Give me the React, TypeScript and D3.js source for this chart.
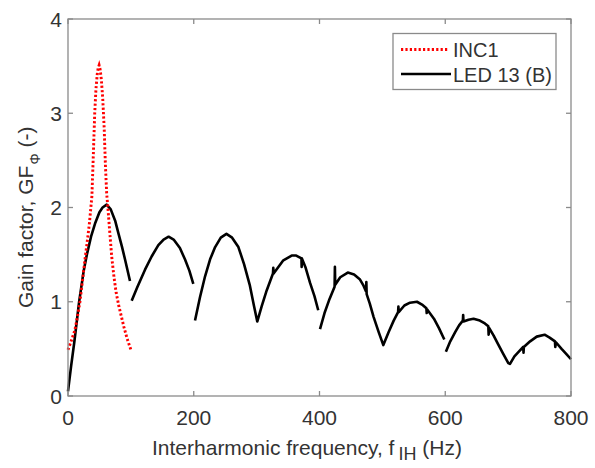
import React from "react";
import * as d3 from "d3";

const xTicks = [0, 200, 400, 600, 800];
const yTicks = [0, 1, 2, 3, 4];

const incFreq = [0, 6, 11, 15, 19, 23, 27, 31, 34, 38, 40.5, 42.5, 44.5, 46.6, 48, 49.5, 51, 53, 55.2, 57.5, 59.5, 61.5, 64, 66.5, 69.5, 73, 76.5, 81, 85, 89, 94, 100];
const incGain = [0.49, 0.6, 0.7, 0.84, 1.0, 1.22, 1.45, 1.66, 1.83, 2.12, 2.6, 3.0, 3.26, 3.42, 3.48, 3.51, 3.47, 3.36, 3.16, 2.85, 2.45, 2.15, 1.95, 1.73, 1.48, 1.27, 1.1, 0.95, 0.84, 0.73, 0.61, 0.49];

const ledFreq = [
  0, 5, 10, 17.7, 25, 30, 37, 43, 50, 55, 61.5, 68, 75, 80, 86, 91, 98.6, NaN,
  101.3, 110, 122.5, 133, 143.7, 152, 160, 168, 178, 186, 193, 199.3, NaN,
  202, 210, 218, 226, 234, 243, 252, 261, 271, 280, 289, 296, 301,
  308, 316, 326, 326.5, 327, 342.5, 355.7, 363, 371.3, 371.6, 372, 378, 385, 392, 398, NaN,
  400.8, 408, 416, 424, 424.5, 425, 433, 445, 455, 464, 470, 474, 474.5, 475, 480, 486, 494, 501.5,
  510, 518, 525, 525.5, 526, 535, 544, 555, 563, 570, 570.5, 571, 582, 590, 598.5, NaN,
  601, 608, 616, 622, 628, 628.5, 629, 637, 645, 655, 663, 668.5, 669, 670, 677, 684, 692, 700.3,
  703, 710, 717, 724, 724.5, 725, 735, 745.5, 758, 766, 774.5, 775, 776, 785, 792, 800
];
const ledGain = [
  0.05, 0.32, 0.57, 1.0, 1.33, 1.5, 1.7, 1.83, 1.95, 2.0, 2.03, 1.98, 1.86, 1.73, 1.58, 1.44, 1.22, NaN,
  1.01, 1.15, 1.34, 1.48, 1.6, 1.66, 1.69, 1.66, 1.57, 1.45, 1.33, 1.19, NaN,
  0.8, 1.05, 1.27, 1.45, 1.58, 1.68, 1.72, 1.68, 1.58, 1.4, 1.18, 0.95, 0.79,
  0.95, 1.12, 1.3, 1.36, 1.3, 1.44, 1.49, 1.49, 1.46, 1.37, 1.46, 1.36, 1.2, 1.06, 0.91, NaN,
  0.71, 0.88, 1.03, 1.16, 1.37, 1.18, 1.26, 1.31, 1.29, 1.24, 1.17, 1.11, 1.21, 1.08, 0.98, 0.84, 0.68, 0.54,
  0.68, 0.8, 0.89, 0.95, 0.89, 0.96, 0.99, 1.0, 0.97, 0.93, 0.88, 0.92, 0.82, 0.72, 0.6, NaN,
  0.47, 0.58, 0.68, 0.75, 0.8, 0.86, 0.79, 0.81, 0.82, 0.8, 0.77, 0.74, 0.65, 0.72, 0.64, 0.55, 0.45, 0.35,
  0.34, 0.42, 0.47, 0.52, 0.46, 0.52, 0.58, 0.63, 0.65, 0.62, 0.58, 0.52, 0.57, 0.5, 0.45, 0.39
];

const legendLabels = ["INC1", "LED 13 (B)"];

const FONT = "'Liberation Sans', Arial, Helvetica, sans-serif";
const TEXT = "#333333";
const AXIS = "#8a8a8a";

export default function App() {
  const W = 595, H = 468;
  const x = d3.scaleLinear().domain([0, 800]).range([68, 571]);
  const y = d3.scaleLinear().domain([0, 4]).range([396, 19]);

  const line = d3
    .line<[number, number]>()
    .defined((d) => !isNaN(d[0]) && !isNaN(d[1]))
    .x((d) => x(d[0]))
    .y((d) => y(d[1]));

  const incPts = incFreq.map((f, i) => [f, incGain[i]] as [number, number]);
  const ledPts = ledFreq.map((f, i) => [f, ledGain[i]] as [number, number]);

  const [x0, x1] = x.range();
  const [y0, y1] = y.range();
  const tl = 5;

  return (
    <svg
      width={W}
      height={H}
      style={{ position: "absolute", left: 0, top: 0, background: "#fff" }}
      fontFamily={FONT}
    >
      <rect x={0} y={0} width={W} height={H} fill="#fff" />
      {/* data */}
      <path d={line(ledPts) || ""} fill="none" stroke="#000" strokeWidth={2.6} strokeLinejoin="round" />
      <path d={line(incPts) || ""} fill="none" stroke="#ff0000" strokeWidth={2.9} strokeDasharray="2.2 2.2" />

      {/* axes box */}
      <rect x={x0} y={y1} width={x1 - x0} height={y0 - y1} fill="none" stroke={AXIS} strokeWidth={1.3} />
      {xTicks.map((t) => (
        <g key={"xt" + t}>
          <line x1={x(t)} x2={x(t)} y1={y0} y2={y0 - tl} stroke={AXIS} strokeWidth={1.3} />
          <line x1={x(t)} x2={x(t)} y1={y1} y2={y1 + tl} stroke={AXIS} strokeWidth={1.3} />
          <text x={x(t)} y={425} fontSize={21} fill={TEXT} textAnchor="middle">
            {t}
          </text>
        </g>
      ))}
      {yTicks.map((t) => (
        <g key={"yt" + t}>
          <line x1={x0} x2={x0 + tl} y1={y(t)} y2={y(t)} stroke={AXIS} strokeWidth={1.3} />
          <line x1={x1} x2={x1 - tl} y1={y(t)} y2={y(t)} stroke={AXIS} strokeWidth={1.3} />
          <text x={62} y={y(t) + 7.5} fontSize={21} fill={TEXT} textAnchor="end">
            {t}
          </text>
        </g>
      ))}

      {/* x label */}
      <text x={152} y={455} fontSize={21} fill={TEXT}>
        Interharmonic frequency, f
        <tspan dx={4} dy={5} fontSize={18}>IH</tspan>
        <tspan dy={-5}> (Hz)</tspan>
      </text>

      {/* y label */}
      <text transform="translate(32.5,308) rotate(-90)" fontSize={21} fill={TEXT}>
        Gain factor, GF
        <tspan dx={1} dy={7} fontSize={14}>Φ</tspan>
        <tspan dy={-7}> (-)</tspan>
      </text>

      {/* legend */}
      <rect x={393} y={33.5} width={163} height={56} fill="#fff" stroke={AXIS} strokeWidth={1.3} />
      <line x1={401} x2={448} y1={49.5} y2={49.5} stroke="#ff0000" strokeWidth={2.9} strokeDasharray="2.2 2.2" />
      <line x1={401} x2={451} y1={74} y2={74} stroke="#000" strokeWidth={2.6} />
      <text x={453} y={57} fontSize={20} fill={TEXT}>{legendLabels[0]}</text>
      <text x={453} y={81.5} fontSize={20} fill={TEXT}>{legendLabels[1]}</text>
    </svg>
  );
}
